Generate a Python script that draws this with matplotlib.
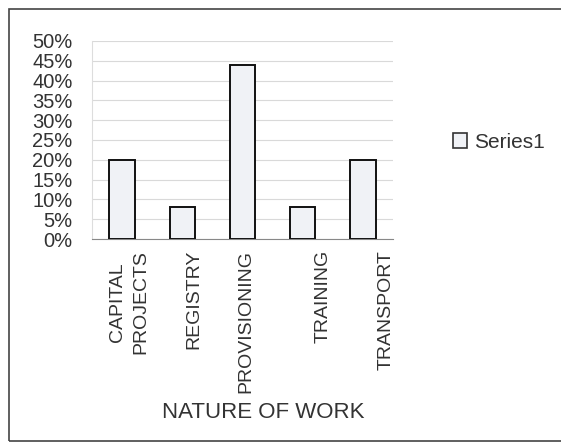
import matplotlib
matplotlib.use('Agg')
import matplotlib.pyplot as plt
import matplotlib.transforms as mtransforms
from matplotlib.patches import Rectangle, Patch
from matplotlib.ticker import PercentFormatter

plt.rcParams['font.family'] = ['Liberation Sans', 'DejaVu Sans']

categories = ['CAPITAL\nPROJECTS', 'REGISTRY', 'PROVISIONING', 'TRAINING', 'TRANSPORT']
shares = [20, 8, 44, 8, 20]
series_name = 'Series1'
y_ticks = [0, 5, 10, 15, 20, 25, 30, 35, 40, 45, 50]

fig = plt.figure(figsize=(5.61, 4.44), dpi=100)
ax = fig.add_axes([0.164, 0.4617, 0.5365, 0.446])

x = range(len(categories))
ax.bar(x, shares, width=0.42, color='#f0f2f6', edgecolor='#111111', linewidth=1.4, zorder=3)

ax.set_xlim(-0.5, len(categories) - 0.5)
ax.set_ylim(0, 50)
ax.set_yticks(y_ticks)
ax.yaxis.set_major_formatter(PercentFormatter(decimals=0))
ax.grid(axis='y', color='#d9d9d9', linewidth=0.8, zorder=0)

for side in ['top', 'right']:
    ax.spines[side].set_visible(False)
ax.spines['left'].set_color('#dddddd')
ax.spines['bottom'].set_color('#888888')

ax.tick_params(axis='y', length=0, pad=14, labelsize=14.5, labelcolor='#333333')
ax.tick_params(axis='x', length=0, pad=8, labelsize=14, labelcolor='#333333')
ax.set_xticks(list(x))
ax.set_xticklabels(categories, rotation=90, va='top', ha='center', multialignment='center',
                   linespacing=1.45)

# small sideways shifts of the category labels (pixels), as in the original
label_shift = [7, 12, 3, 20, 23]
for lab, dx in zip(ax.get_xticklabels(), label_shift):
    lab.set_transform(lab.get_transform() + mtransforms.ScaledTranslation(dx / 100, 0, fig.dpi_scale_trans))

ax.set_xlabel('NATURE OF WORK', fontsize=16, color='#333333', va='center')
ax.xaxis.set_label_coords(0.568, -0.874)

handle = Patch(facecolor='#f0f2f6', edgecolor='#333333', linewidth=1.2)
fig.legend([handle], [series_name], loc='center left', bbox_to_anchor=(434 / 561, 1 - 142 / 444),
           frameon=False, fontsize=15, handlelength=0.7, handleheight=0.7, handletextpad=0.3,
           labelcolor='#333333')

fig.patches.append(Rectangle((9 / 561, 3 / 444), 1.01 - 9 / 561, 1 - 9 / 444 - 3 / 444,
                             transform=fig.transFigure, fill=False, edgecolor='#444444', linewidth=1.2))

fig.savefig('out.png', dpi=100)
